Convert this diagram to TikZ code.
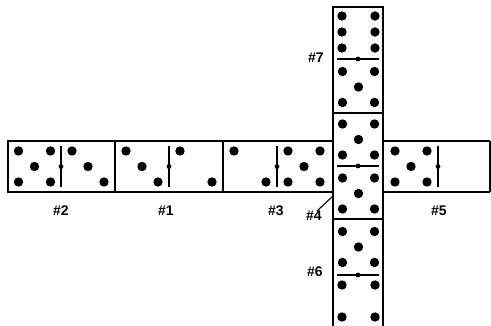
\documentclass[tikz,border=0pt]{standalone}
\usepackage{fontspec}
\newfontfamily\lblfont{Liberation Sans}
\usetikzlibrary{positioning}

% pip layouts, offsets from the centre of one half
\newcommand{\pipsix}{-16.5/-16,16.5/-16,-16.5/0,16.5/0,-16.5/16,16.5/16}
\newcommand{\pipfive}{-16/-15.5,16/-15.5,0/0,-16/15.5,16/15.5}
\newcommand{\pipfour}{-16.5/-16,16.5/-16,-16.5/16,16.5/16}
\newcommand{\pipthree}{-16/-15.5,0/0,16/15.5}
\newcommand{\piptwo}{-16/-15.5,16/15.5}
\newcommand{\pips}[2]{\foreach \dx/\dy in #2 {\fill[pip] (#1) ++(\dx,\dy) circle[radius=4.7pt];}}

\tikzset{
  tile/.style={draw, line width=1.9pt},
  pip/.style={fill=black},
  midline/.style={line width=1.1pt},
  lbl/.style={font=\lblfont\bfseries\fontsize{14}{16}\selectfont, inner sep=0pt}
}

\begin{document}
\begin{tikzpicture}[x=1pt, y=-1pt]
\useasboundingbox (0,0) rectangle (491,326);

% the row
\draw[tile] (8,141) rectangle (333,192);
\draw[tile] (115,141) -- (115,192);
\draw[tile] (223,141) -- (223,192);
\draw[tile] (383,141) -- (490,141);
\draw[tile] (383,192) -- (490,192);
\draw[line width=1.2pt] (490,141) -- (490,192);

% the column
\draw[tile] (333,326) -- (333,7) -- (383,7) -- (383,326);
\draw[tile] (333,113) -- (383,113);
\draw[tile] (333,219) -- (383,219);

% middle lines of the row
\foreach \cx in {61,169,277,438} {
  \draw[midline] (\cx,146) -- (\cx,187);
  \fill (\cx,166.5) circle[radius=2.4pt];
}
% middle lines of the column
\foreach \cy in {59,166,275} {
  \draw[midline] (337,\cy) -- (379,\cy);
  \fill (358,\cy) circle[radius=2.4pt];
}

% pips of the row
\pips{34.5,166.5}{\pipfive}
\pips{88,166.5}{\pipthree}
\pips{142,166.5}{\pipthree}
\pips{196,166.5}{\piptwo}
\pips{250,166.5}{\piptwo}
\pips{304,166.5}{\pipfive}
\pips{411,166.5}{\pipfive}

% pips of the column
\pips{358.5,32}{\pipsix}
\pips{358.5,87}{\pipfive}
\pips{358.5,139.5}{\pipfive}
\pips{358.5,193.5}{\pipfive}
\pips{358.5,247}{\pipfive}
\pips{358.5,301}{\pipfour}

% labels
\node[lbl] (l2) at (61,211) {\#2};
\node[lbl] (l1) at (166,211) {\#1};
\node[lbl] (l3) at (276,211) {\#3};
\node[lbl] (l4) at (314,216) {\#4};
\node[lbl] (l5) at (439,211) {\#5};
\node[lbl] (l6) at (315,272) {\#6};
\node[lbl] (l7) at (316,58) {\#7};
\coordinate (c4) at (333,196);
\draw[line width=1.1pt] ([xshift=3pt]l4.north) -- (c4);
\end{tikzpicture}
\end{document}
